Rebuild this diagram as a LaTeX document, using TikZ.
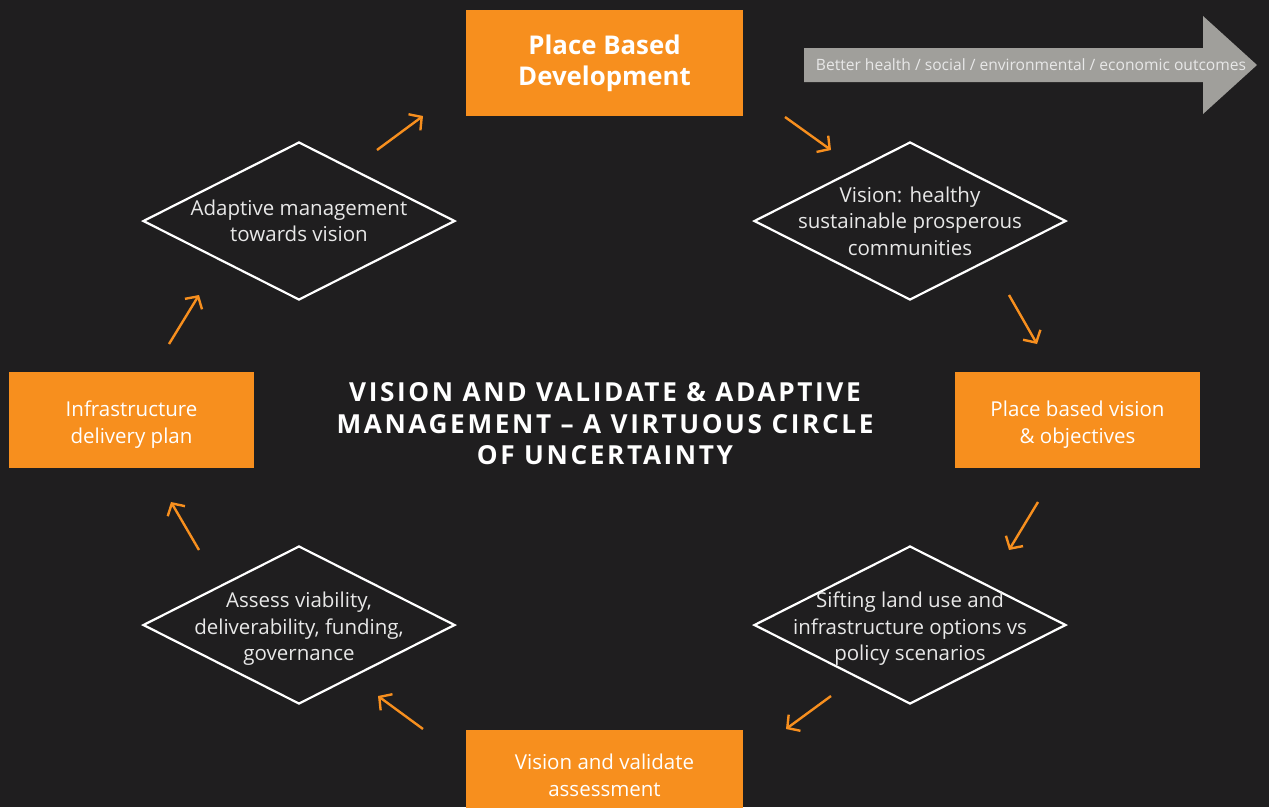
\documentclass[tikz,border=0pt]{standalone}
\usepackage{fontspec}
\setmainfont{Open Sans}
\newfontfamily\titlefont[LetterSpace=10,Ligatures=TeX]{Open Sans}
\usetikzlibrary{shapes.geometric}
\usepgflibrary{arrows.meta}
\definecolor{bgdark}{RGB}{31,30,31}
\definecolor{pborange}{RGB}{247,143,30}
\definecolor{outgrey}{RGB}{160,159,155}
\definecolor{softwhite}{RGB}{232,232,232}

\begin{document}
\begin{tikzpicture}[x=1pt,y=-1pt,
    obox/.style={fill=pborange,minimum width=277pt,minimum height=106pt,inner sep=0pt,text=white,align=center,font=\fontsize{20.5}{27}\selectfont},
    sbox/.style={fill=pborange,minimum width=245pt,minimum height=96pt,inner sep=0pt,text=white,align=center,text height=51pt,font=\fontsize{20.5}{27}\selectfont},
    dia/.style={diamond,draw=white,line width=2.2pt,minimum width=312pt,minimum height=158pt,inner sep=0pt},
    diatext/.style={text=softwhite,align=center,font=\fontsize{20.5}{26.5}\selectfont},
    flow/.style={draw=pborange,line width=2.4pt,-{Straight Barb[length=9pt,width=20pt,line width=2.4pt]}}]
            \useasboundingbox (0,0) rectangle (1269,807);
            \clip (0,0) rectangle (1269,807);
            \fill [bgdark] (0,0) rectangle (1269,807);
            %outcome arrow
            \fill [outgrey] (804,48)--(1203,48)--(1203,16)--(1257,65)--(1203,114)--(1203,82)--(804,82)--cycle;
            \node [text=softwhite,font=\fontsize{15.6}{18}\selectfont] (outcome) at (1031,65) {Better health / social / environmental / economic outcomes};
            %boxes
            \node [obox,font=\bfseries\fontsize{25.8}{31}\selectfont] (pbd) at (604.5,63) {Place Based\\Development};
            \node [sbox] (pbvision) at (1077.5,420) {Place based vision\\\& objectives};
            \node [obox,minimum height=90pt] (validate) at (604.5,775) {Vision and validate\\assessment};
            \node [sbox] (infra) at (131.5,420) {Infrastructure\\delivery plan};
            %diamonds
            \node [dia] (vision) at (910,221) {};
            \node [diatext] at (vision) {Vision: healthy\\sustainable prosperous\\communities};
            \node [dia] (sifting) at (910,625) {};
            \node [diatext,yshift=-4pt] at (sifting) {Sifting land use and\\infrastructure options vs\\policy scenarios};
            \node [dia] (assess) at (299,625) {};
            \node [diatext,yshift=-4pt] at (assess) {Assess viability,\\deliverability, funding,\\governance};
            \node [dia] (adapt) at (299,221) {};
            \node [diatext] at (adapt) {Adaptive management\\towards vision};
            %title
            \node [text=white,align=center,font=\titlefont\bfseries\fontsize{26.2}{31.5}\selectfont] (title) at (605,424) {VISION AND VALIDATE \& ADAPTIVE\\MANAGEMENT – A VIRTUOUS CIRCLE\\OF UNCERTAINTY};
            %arrows
            \coordinate (a1) at (785,117); \coordinate (b1) at (831,150);
            \coordinate (a2) at (1009,295); \coordinate (b2) at (1037,344);
            \coordinate (a3) at (1038,502); \coordinate (b3) at (1009,550);
            \coordinate (a4) at (831,696); \coordinate (b4) at (786,729);
            \coordinate (a5) at (423,729); \coordinate (b5) at (378,696);
            \coordinate (a6) at (199,550); \coordinate (b6) at (171,502);
            \coordinate (a7) at (169,344); \coordinate (b7) at (199,295);
            \coordinate (a8) at (377,150); \coordinate (b8) at (423,116);
            \foreach \i in {1,...,8} \draw [flow] (a\i) -- (b\i);
    \end{tikzpicture}
\end{document}
